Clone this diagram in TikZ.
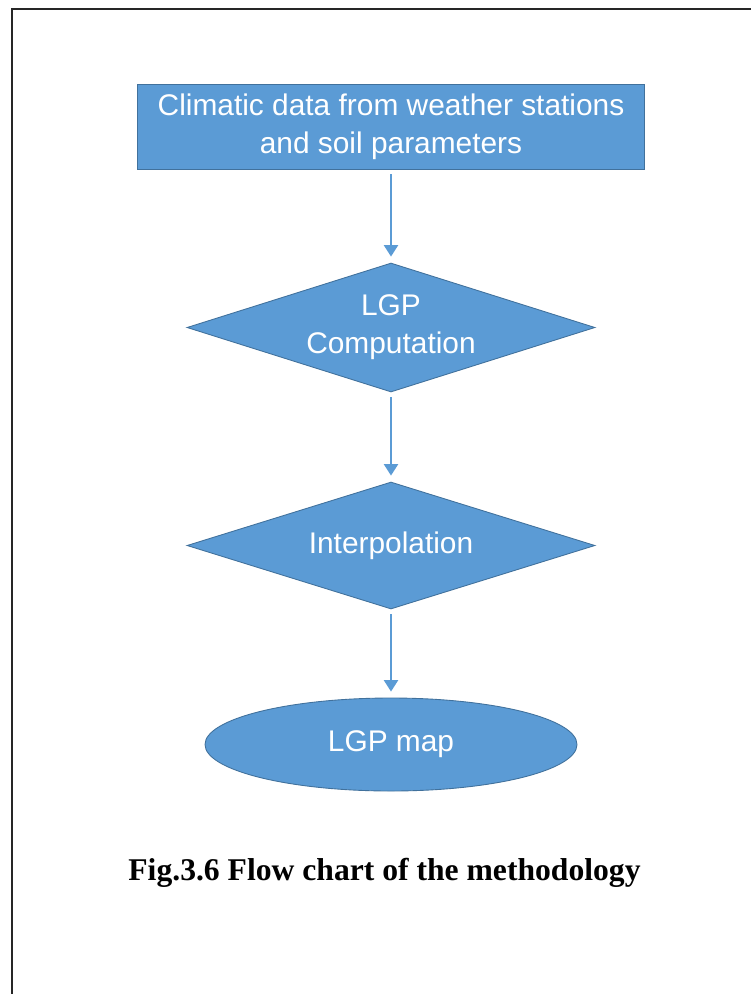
\documentclass[tikz,border=0pt]{standalone}
\usepackage{fontspec}
\setmainfont{Liberation Serif}
\newfontfamily\boxfont{Liberation Sans}
\usetikzlibrary{shapes.geometric,arrows.meta}

\definecolor{flowblue}{HTML}{5B9BD5}
\definecolor{flowedge}{HTML}{41719C}

\begin{document}
\begin{tikzpicture}[
  block/.style={draw=flowedge,line width=0.5pt,fill=flowblue,text=white,
    font=\boxfont\fontsize{17}{21.5}\selectfont,align=center,inner sep=0pt},
  decide/.style={block,diamond,aspect=3.2},
  flow/.style={draw=flowblue,line width=1.1pt,-{Triangle[width=8pt,length=6.5pt]},
    shorten <=0.1cm,shorten >=0.12cm}]
\useasboundingbox (0,0) rectangle (15,-19.88);
% frame, only top and left edge visible
\draw[line width=1.1pt,black!85] (0.24,-19.95) |- (15.1,-0.18);

\node[block,rectangle,minimum width=10.14cm,minimum height=1.7cm] (data) at (7.82,-2.53)
  {Climatic data from weather stations\\and soil parameters};
\node[decide,minimum width=8.16cm,minimum height=2.58cm] (lgp) at (7.82,-6.55)
  {LGP\\Computation};
\node[decide,minimum width=8.16cm,minimum height=2.54cm] (interp) at (7.82,-10.91)
  {Interpolation};
\node[block,ellipse,minimum width=7.44cm,minimum height=1.86cm] (map) at (7.82,-14.89)
  {LGP map};

\draw[flow] (data.south) -- (lgp.north);
\draw[flow] (lgp.south) -- (interp.north);
\draw[flow] (interp.south) -- (map.north);

\node[anchor=base,font=\bfseries\fontsize{18}{22}\selectfont] (caption) at (7.69,-17.6)
  {Fig.3.6 Flow chart of the methodology};
\end{tikzpicture}
\end{document}
